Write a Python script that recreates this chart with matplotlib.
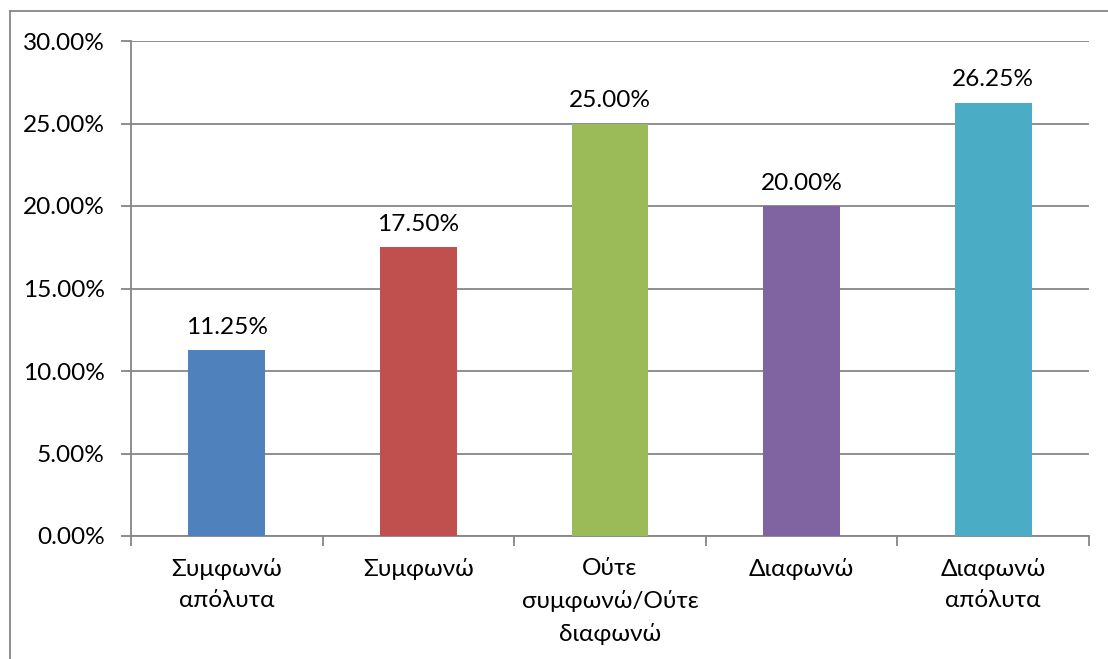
import matplotlib
matplotlib.use("Agg")
import matplotlib.pyplot as plt
from matplotlib.lines import Line2D
from matplotlib.ticker import FixedLocator, PercentFormatter

categories = ["Συμφωνώ\nαπόλυτα", "Συμφωνώ", "Ούτε\nσυμφωνώ/Ούτε\nδιαφωνώ", "Διαφωνώ", "Διαφωνώ\nαπόλυτα"]
values = [11.25, 17.50, 25.00, 20.00, 26.25]
colors = ["#4F81BD", "#C0504D", "#9BBB59", "#8064A2", "#4BACC6"]
yticks = [0, 5, 10, 15, 20, 25, 30]

plt.rcParams['font.family'] = ['Lato', 'DejaVu Sans']
FS = 17.6
GRAY = "#868686"

fig = plt.figure(figsize=(11.08, 6.59), dpi=100)
ax = fig.add_axes([131/1108, 1-536/659, (1089-131)/1108, (536-41)/659])

x = list(range(len(categories)))
bars = ax.bar(x, values, width=0.4, color=colors, zorder=3)
ax.set_xlim(-0.5, len(categories)-0.5)
ax.set_ylim(0, 30)
ax.set_yticks(yticks)
ax.yaxis.set_major_formatter(PercentFormatter(decimals=2))
ax.grid(axis='y', color=GRAY, linewidth=1.3, zorder=0)

for b, v in zip(bars, values):
    ax.annotate(f"{v:.2f}%", (b.get_x()+b.get_width()/2, v), xytext=(0, 9),
                textcoords='offset points', ha='center', va='bottom', fontsize=FS, color='black')

ax.set_xticks(x)
ax.set_xticklabels(categories, fontsize=FS, linespacing=1.6)
ax.xaxis.set_minor_locator(FixedLocator([i-0.5 for i in range(len(categories)+1)]))
ax.tick_params(axis='x', which='major', length=0, pad=16)
ax.tick_params(axis='x', which='minor', length=7, width=1.3, color=GRAY)
ax.tick_params(axis='y', length=7, width=1.3, color=GRAY, labelsize=FS, pad=12)

for s in ['top', 'right']:
    ax.spines[s].set_visible(False)
for s in ['left', 'bottom']:
    ax.spines[s].set_color(GRAY)
    ax.spines[s].set_linewidth(1.3)

fig.add_artist(Line2D([10/1108, 1.0], [1-11/659, 1-11/659], transform=fig.transFigure, color=GRAY, linewidth=1.3))
fig.add_artist(Line2D([10/1108, 10/1108], [0, 1-11/659], transform=fig.transFigure, color=GRAY, linewidth=1.3))

fig.savefig("out.png", dpi=100, facecolor='white')
